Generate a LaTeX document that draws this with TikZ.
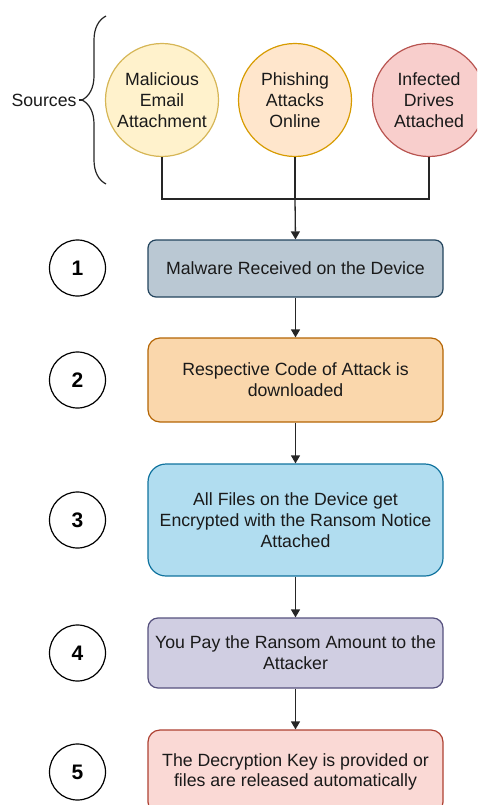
\documentclass[tikz,border=0pt]{standalone}
\usepackage{fontspec}
\setmainfont{Liberation Sans}
\usetikzlibrary{positioning,arrows.meta,decorations.pathreplacing}

\definecolor{ylwfill}{HTML}{FFF2CC}\definecolor{ylwline}{HTML}{D6B656}
\definecolor{orgfill}{HTML}{FFE6CC}\definecolor{orgline}{HTML}{D79B00}
\definecolor{redfill}{HTML}{F8CECC}\definecolor{redline}{HTML}{B85450}
\definecolor{gryfill}{HTML}{BAC8D3}\definecolor{gryline}{HTML}{23445D}
\definecolor{tanfill}{HTML}{FAD7AC}\definecolor{tanline}{HTML}{B46504}
\definecolor{bluefill}{HTML}{B1DDF0}\definecolor{blueline}{HTML}{10739E}
\definecolor{purfill}{HTML}{D0CEE2}\definecolor{purline}{HTML}{56517E}
\definecolor{pinkfill}{HTML}{FAD9D5}\definecolor{pinkline}{HTML}{AE4132}
\definecolor{txt}{HTML}{1A1A1A}

\begin{document}
\begin{tikzpicture}[x=1pt,y=-1pt,
    txtfont/.style={font=\fontsize{17.7}{20.7}\selectfont, text=txt},
    source/.style={circle, txtfont, line width=1.2pt, minimum size=113pt, inner sep=0pt, align=center},
    stepbox/.style={rectangle, txtfont, line width=1.2pt, minimum width=295pt, inner sep=0pt, align=center},
    num/.style={circle, draw=black, line width=1.2pt, minimum size=56pt, inner sep=0pt, font=\fontsize{21}{24}\selectfont\bfseries},
    flow/.style={draw=black!85, line width=1.3pt, -{Triangle[length=8pt,width=9pt]}},
    link/.style={draw=black!85, line width=1.3pt}]
    \clip (0,0) rectangle (477,805);

    % sources
    \node[source, fill=ylwfill, draw=ylwline](mal) at (162,100) {Malicious\\Email\\Attachment};
    \node[source, fill=orgfill, draw=orgline](phi) at (295,100) {Phishing\\Attacks\\Online};
    \node[source, fill=redfill, draw=redline](inf) at (429,100) {Infected\\Drives\\Attached};

    \node[txtfont, inner sep=0pt](src) at (44,100) {Sources};
    \coordinate (btop) at (106,16);
    \coordinate (bbot) at (106,184);
    \coordinate (btip) at (82,100);
    \draw[line width=1.2pt, black!85, decorate, decoration={brace, amplitude=24pt}] (bbot) -- (btop);
    \draw[line width=1.2pt, black!85] (src.east) ++(2pt,0) -- (btip);

    % steps
    \node[stepbox, fill=gryfill, draw=gryline, minimum height=57pt, rounded corners=8pt](s1) at (295.5,268.5) {Malware Received on the Device};
    \node[stepbox, fill=tanfill, draw=tanline, minimum height=84pt, rounded corners=12pt](s2) at (295.5,380) {Respective Code of Attack is\\downloaded};
    \node[stepbox, fill=bluefill, draw=blueline, minimum height=112pt, rounded corners=18pt](s3) at (295.5,520) {All Files on the Device get\\Encrypted with the Ransom Notice\\Attached};
    \node[stepbox, fill=purfill, draw=purline, minimum height=70pt, rounded corners=10pt](s4) at (295.5,653) {You Pay the Ransom Amount to the\\Attacker};
    \node[stepbox, fill=pinkfill, draw=pinkline, minimum height=84pt, rounded corners=12pt](s5) at (295.5,772) {The Decryption Key is provided or\\files are released automatically};

    \node[num](n1) at (77.5,268) {1};
    \node[num](n2) at (77.5,380) {2};
    \node[num](n3) at (77.5,520) {3};
    \node[num](n4) at (77.5,653) {4};
    \node[num](n5) at (77.5,772) {5};

    % connectors
    \coordinate (join) at (295,199);
    \draw[link] (mal.south) |- (join);
    \draw[link] (inf.south) |- (join);
    \draw[link] (phi.south) -- (join);
    \draw[flow] (join) -- (s1.north);
    \draw[flow] (s1) -- (s2);
    \draw[flow] (s2) -- (s3);
    \draw[flow] (s3) -- (s4);
    \draw[flow] (s4) -- (s5);
\end{tikzpicture}
\end{document}
